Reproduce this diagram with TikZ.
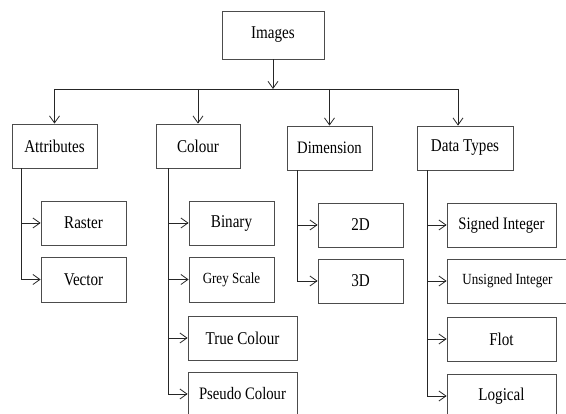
\documentclass[tikz,border=0pt]{standalone}
\usepackage{fontspec}
\setmainfont{Liberation Serif}[FakeStretch=0.84]
\usetikzlibrary{arrows.meta}

\begin{document}
\begin{tikzpicture}[x=1pt,y=-1pt,
    box/.style={draw=black!70,line width=0.8pt,inner sep=0pt,minimum width=85pt,minimum height=44pt,font=\fontsize{18}{20}\selectfont},
    small/.style={font=\fontsize{15.5}{17}\selectfont},
    link/.style={draw=black!85,line width=0.8pt},
    >={Straight Barb[length=7pt,width=10pt]}]
    \clip (0,0) rectangle (566,414);
    % Disegna la radice e le categorie
    \node[box,minimum width=102pt,minimum height=48pt] (img) at (273,35) {Images};
    \node[box] (attr) at (54.5,146) {Attributes};
    \node[box,minimum width=84pt] (col) at (198,146) {Colour};
    \node[box,font=\fontsize{17.5}{19}\selectfont] (dim) at (329.5,148) {Dimension};
    \node[box,minimum width=96pt] (dtype) at (465,148) {Data Types};
    % Disegna le foglie
    \node[box] (raster) at (83.5,223) {Raster};
    \node[box,minimum height=45pt] (vector) at (83.5,279.5) {Vector};
    \node[box] (binary) at (231.5,223) {Binary};
    \node[box,small,minimum height=45pt] (grey) at (231.5,279.5) {Grey Scale};
    \node[box,minimum width=109pt] (truec) at (242.5,338) {True Colour};
    \node[box,minimum width=109pt,font=\fontsize{17.5}{19}\selectfont] (pseudo) at (242.5,394) {Pseudo Colour};
    \node[box] (twod) at (360.5,225) {2D};
    \node[box] (threed) at (360.5,281) {3D};
    \node[box,minimum width=109pt,font=\fontsize{17.5}{19}\selectfont] (signed) at (501.5,225) {Signed Integer};
    \node[box,small,minimum width=121pt] (unsigned) at (507.5,281) {Unsigned Integer};
    \node[box,minimum width=109pt] (flot) at (501.5,339) {Flot};
    \node[box,minimum width=109pt] (logical) at (501.5,396) {Logical};
    % Disegna la barra orizzontale
    \coordinate (bus) at (0,89);
    \coordinate (busE) at (458,89);
    \draw[link,->] (img.south) -- (img.south |- bus);
    \draw[link] (attr.north |- bus) -- (busE);
    \draw[link,->] (attr.north |- bus) -- (attr.north);
    \draw[link,->] (col.north |- bus) -- (col.north);
    \draw[link,->] (dim.north |- bus) -- (dim.north);
    \draw[link,->] (busE) -- (busE |- dtype.north);
    % Disegna i rami verticali
    \coordinate (attrT) at ([xshift=10pt]attr.south west);
    \coordinate (colT) at ([xshift=13pt]col.south west);
    \coordinate (dimT) at ([xshift=11pt]dim.south west);
    \coordinate (dtypeT) at ([xshift=11pt]dtype.south west);
    \draw[link,->] (attrT |- raster.west) -- (raster.west);
    \draw[link,->] (attrT) |- (vector.west);
    \draw[link,->] (colT |- binary.west) -- (binary.west);
    \draw[link,->] (colT |- grey.west) -- (grey.west);
    \draw[link,->] (colT |- truec.west) -- (truec.west);
    \draw[link,->] (colT) |- (pseudo.west);
    \draw[link,->] (dimT |- twod.west) -- (twod.west);
    \draw[link,->] (dimT) |- (threed.west);
    \draw[link,->] (dtypeT |- signed.west) -- (signed.west);
    \draw[link,->] (dtypeT |- unsigned.west) -- (unsigned.west);
    \draw[link,->] (dtypeT |- flot.west) -- (flot.west);
    \draw[link,->] (dtypeT) |- (logical.west);
\end{tikzpicture}
\end{document}
